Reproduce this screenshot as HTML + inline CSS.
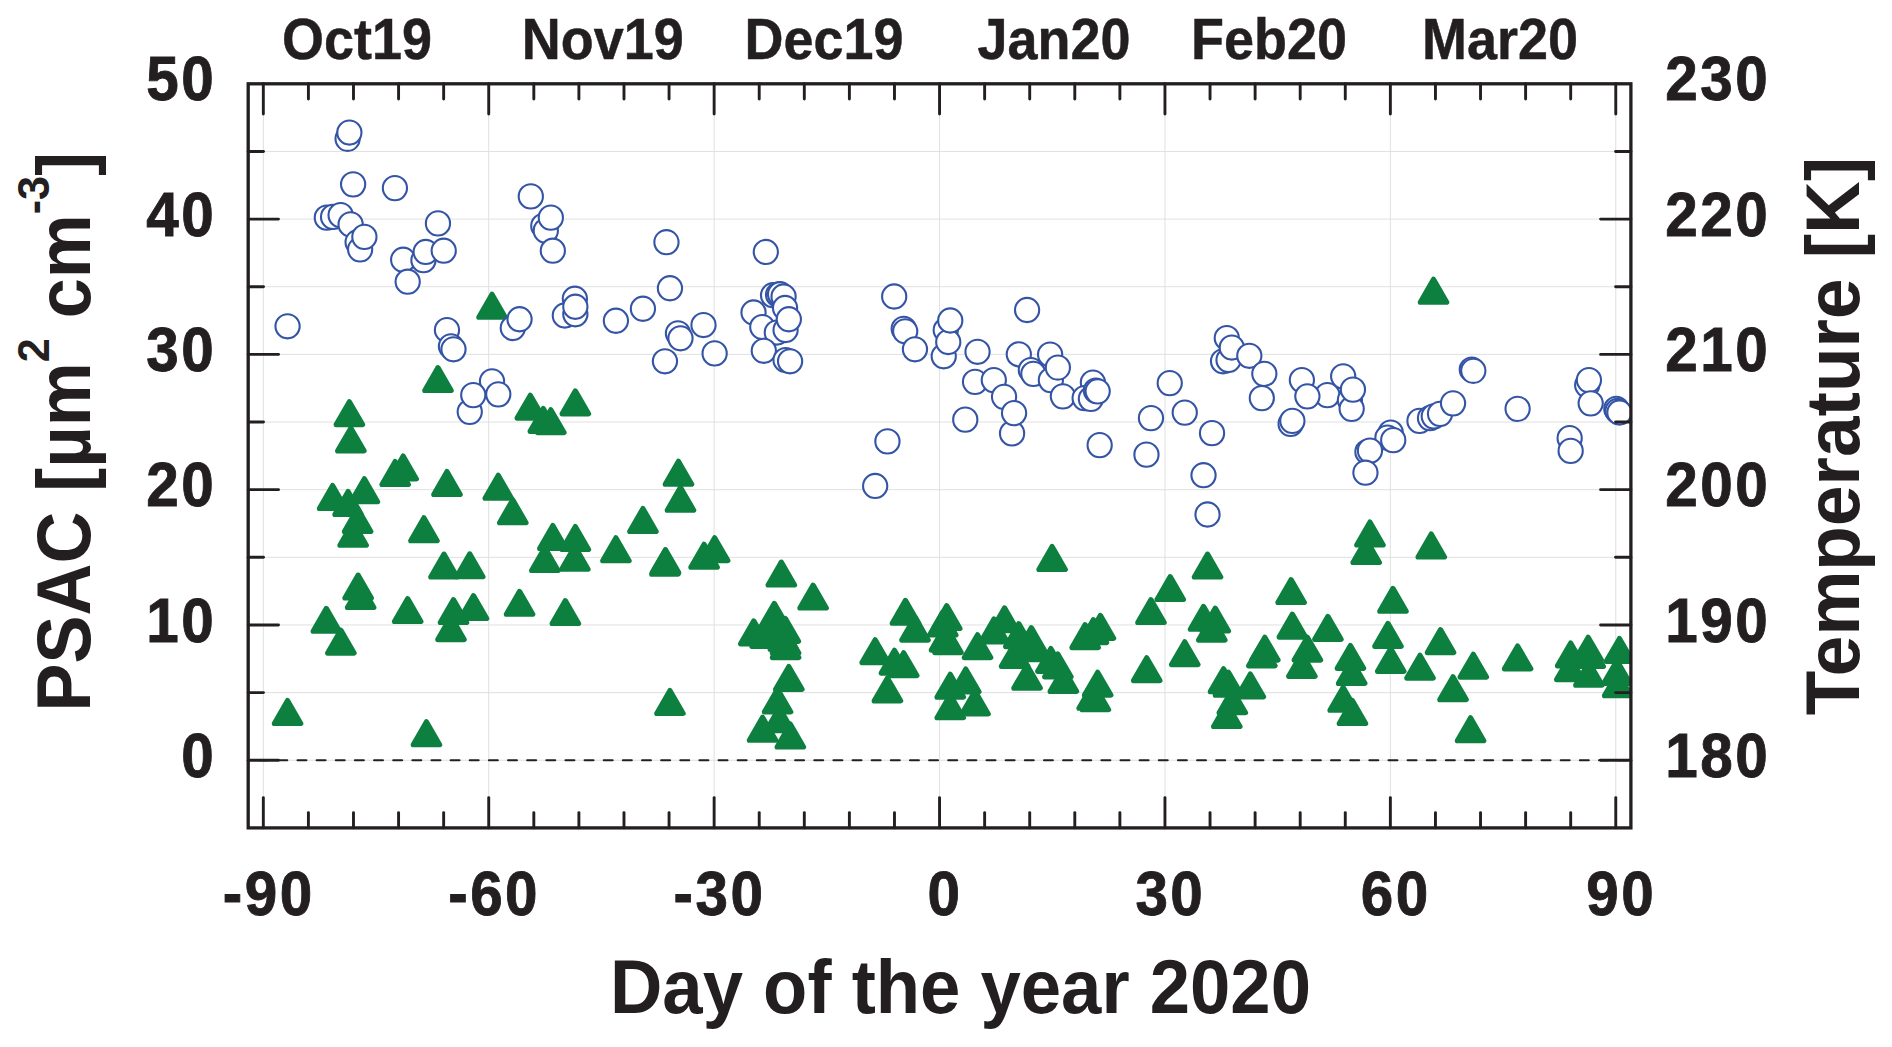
<!DOCTYPE html>
<html><head><meta charset="utf-8"><title>PSAC and Temperature</title>
<style>html,body{margin:0;padding:0;background:#fff}svg{display:block}text{font-family:"Liberation Sans",Arial,Helvetica,sans-serif;font-weight:bold;fill:#231f20}</style></head><body>
<svg width="1892" height="1047" viewBox="0 0 1892 1047">
<rect width="1892" height="1047" fill="#fff"/>
<defs><clipPath id="pc"><rect x="248.20" y="83.80" width="1382.70" height="744.10"/></clipPath></defs>
<g stroke="#dedede" stroke-width="0.95" fill="none">
<line x1="263.33" y1="83.80" x2="263.33" y2="827.90"/>
<line x1="488.73" y1="83.80" x2="488.73" y2="827.90"/>
<line x1="714.14" y1="83.80" x2="714.14" y2="827.90"/>
<line x1="939.55" y1="83.80" x2="939.55" y2="827.90"/>
<line x1="1164.96" y1="83.80" x2="1164.96" y2="827.90"/>
<line x1="1390.37" y1="83.80" x2="1390.37" y2="827.90"/>
<line x1="1615.77" y1="83.80" x2="1615.77" y2="827.90"/>
<line x1="248.20" y1="760.25" x2="1630.90" y2="760.25"/>
<line x1="248.20" y1="692.61" x2="1630.90" y2="692.61"/>
<line x1="248.20" y1="624.96" x2="1630.90" y2="624.96"/>
<line x1="248.20" y1="557.32" x2="1630.90" y2="557.32"/>
<line x1="248.20" y1="489.67" x2="1630.90" y2="489.67"/>
<line x1="248.20" y1="422.02" x2="1630.90" y2="422.02"/>
<line x1="248.20" y1="354.38" x2="1630.90" y2="354.38"/>
<line x1="248.20" y1="286.74" x2="1630.90" y2="286.74"/>
<line x1="248.20" y1="219.09" x2="1630.90" y2="219.09"/>
<line x1="248.20" y1="151.45" x2="1630.90" y2="151.45"/>
</g>
<line x1="259.28" y1="760.25" x2="1627.90" y2="760.25" stroke="#231f20" stroke-width="2.2" stroke-linecap="round" stroke-dasharray="8.8 10.34"/>
<g clip-path="url(#pc)">
<g fill="#0d8040" stroke="#0d8040" stroke-width="5.1" stroke-linejoin="round">
<path d="M492.02 294.28 L505.27 317.23 L478.77 317.23 Z"/>
<path d="M1433.51 279.26 L1446.76 302.21 L1420.26 302.21 Z"/>
<path d="M437.96 367.62 L451.21 390.57 L424.71 390.57 Z"/>
<path d="M349.37 401.66 L362.62 424.61 L336.12 424.61 Z"/>
<path d="M350.87 427.93 L364.12 450.88 L337.62 450.88 Z"/>
<path d="M530.31 395.15 L543.56 418.10 L517.06 418.10 Z"/>
<path d="M543.32 408.41 L556.57 431.36 L530.07 431.36 Z"/>
<path d="M550.83 409.66 L564.08 432.61 L537.58 432.61 Z"/>
<path d="M575.35 390.89 L588.60 413.84 L562.10 413.84 Z"/>
<path d="M403.17 455.96 L416.42 478.91 L389.92 478.91 Z"/>
<path d="M395.16 461.47 L408.41 484.42 L381.91 484.42 Z"/>
<path d="M446.97 471.48 L460.22 494.43 L433.72 494.43 Z"/>
<path d="M498.27 475.23 L511.52 498.18 L485.02 498.18 Z"/>
<path d="M512.79 499.76 L526.04 522.71 L499.54 522.71 Z"/>
<path d="M364.38 478.74 L377.63 501.69 L351.13 501.69 Z"/>
<path d="M332.60 485.49 L345.85 508.44 L319.35 508.44 Z"/>
<path d="M348.11 491.50 L361.36 514.45 L334.86 514.45 Z"/>
<path d="M357.62 508.52 L370.87 531.47 L344.37 531.47 Z"/>
<path d="M353.12 522.28 L366.37 545.23 L339.87 545.23 Z"/>
<path d="M423.94 517.78 L437.19 540.73 L410.69 540.73 Z"/>
<path d="M678.46 461.22 L691.71 484.17 L665.21 484.17 Z"/>
<path d="M680.47 487.25 L693.72 510.20 L667.22 510.20 Z"/>
<path d="M642.93 508.52 L656.18 531.47 L629.68 531.47 Z"/>
<path d="M552.83 525.54 L566.08 548.49 L539.58 548.49 Z"/>
<path d="M575.35 526.54 L588.60 549.49 L562.10 549.49 Z"/>
<path d="M615.90 537.80 L629.15 560.75 L602.65 560.75 Z"/>
<path d="M287.55 700.47 L300.80 723.42 L274.30 723.42 Z"/>
<path d="M426.45 721.74 L439.70 744.69 L413.20 744.69 Z"/>
<path d="M669.95 690.46 L683.20 713.41 L656.70 713.41 Z"/>
<path d="M326.34 608.37 L339.59 631.32 L313.09 631.32 Z"/>
<path d="M340.86 630.14 L354.11 653.09 L327.61 653.09 Z"/>
<path d="M358.12 575.08 L371.37 598.03 L344.87 598.03 Z"/>
<path d="M360.63 584.59 L373.88 607.54 L347.38 607.54 Z"/>
<path d="M407.68 598.61 L420.93 621.56 L394.43 621.56 Z"/>
<path d="M453.48 599.61 L466.73 622.56 L440.23 622.56 Z"/>
<path d="M450.97 616.63 L464.22 639.58 L437.72 639.58 Z"/>
<path d="M473.50 595.61 L486.75 618.56 L460.25 618.56 Z"/>
<path d="M443.97 554.06 L457.22 577.01 L430.72 577.01 Z"/>
<path d="M469.74 553.81 L482.99 576.76 L456.49 576.76 Z"/>
<path d="M519.55 591.35 L532.80 614.30 L506.30 614.30 Z"/>
<path d="M565.34 600.61 L578.59 623.56 L552.09 623.56 Z"/>
<path d="M544.82 547.56 L558.07 570.51 L531.57 570.51 Z"/>
<path d="M574.85 546.30 L588.10 569.25 L561.60 569.25 Z"/>
<path d="M665.45 549.56 L678.70 572.51 L652.20 572.51 Z"/>
<path d="M664.95 551.18 L678.20 574.13 L651.70 574.13 Z"/>
<path d="M704.09 544.30 L717.34 567.25 L690.84 567.25 Z"/>
<path d="M714.65 537.65 L727.90 560.60 L701.40 560.60 Z"/>
<path d="M781.32 562.07 L794.57 585.02 L768.07 585.02 Z"/>
<path d="M813.11 585.10 L826.36 608.05 L799.86 608.05 Z"/>
<path d="M774.31 603.36 L787.56 626.31 L761.06 626.31 Z"/>
<path d="M753.79 620.88 L767.04 643.83 L740.54 643.83 Z"/>
<path d="M765.06 623.39 L778.31 646.34 L751.81 646.34 Z"/>
<path d="M785.33 618.38 L798.58 641.33 L772.08 641.33 Z"/>
<path d="M785.58 634.65 L798.83 657.60 L772.33 657.60 Z"/>
<path d="M783.32 626.39 L796.57 649.34 L770.07 649.34 Z"/>
<path d="M775.07 613.38 L788.32 636.33 L761.82 636.33 Z"/>
<path d="M785.58 630.14 L798.83 653.09 L772.33 653.09 Z"/>
<path d="M788.83 666.43 L802.08 689.38 L775.58 689.38 Z"/>
<path d="M777.57 688.96 L790.82 711.91 L764.32 711.91 Z"/>
<path d="M762.55 717.24 L775.80 740.19 L749.30 740.19 Z"/>
<path d="M790.33 723.99 L803.58 746.94 L777.08 746.94 Z"/>
<path d="M779.32 707.73 L792.57 730.68 L766.07 730.68 Z"/>
<path d="M875.17 639.65 L888.42 662.60 L861.92 662.60 Z"/>
<path d="M887.43 677.94 L900.68 700.89 L874.18 700.89 Z"/>
<path d="M894.44 650.16 L907.69 673.11 L881.19 673.11 Z"/>
<path d="M903.70 652.67 L916.95 675.62 L890.45 675.62 Z"/>
<path d="M905.45 600.36 L918.70 623.31 L892.20 623.31 Z"/>
<path d="M914.96 617.13 L928.21 640.08 L901.71 640.08 Z"/>
<path d="M946.75 605.62 L960.00 628.57 L933.50 628.57 Z"/>
<path d="M942.74 612.12 L955.99 635.07 L929.49 635.07 Z"/>
<path d="M948.00 629.64 L961.25 652.59 L934.75 652.59 Z"/>
<path d="M944.49 627.14 L957.74 650.09 L931.24 650.09 Z"/>
<path d="M977.53 634.65 L990.78 657.60 L964.28 657.60 Z"/>
<path d="M950.25 674.19 L963.50 697.14 L937.00 697.14 Z"/>
<path d="M965.77 668.93 L979.02 691.88 L952.52 691.88 Z"/>
<path d="M950.25 694.71 L963.50 717.66 L937.00 717.66 Z"/>
<path d="M975.03 690.96 L988.28 713.91 L961.78 713.91 Z"/>
<path d="M1004.56 607.87 L1017.81 630.82 L991.31 630.82 Z"/>
<path d="M994.05 618.88 L1007.30 641.83 L980.80 641.83 Z"/>
<path d="M1018.82 623.64 L1032.07 646.59 L1005.57 646.59 Z"/>
<path d="M1034.09 636.65 L1047.34 659.60 L1020.84 659.60 Z"/>
<path d="M1031.34 627.64 L1044.59 650.59 L1018.09 650.59 Z"/>
<path d="M1014.57 643.41 L1027.82 666.36 L1001.32 666.36 Z"/>
<path d="M1027.08 665.18 L1040.33 688.13 L1013.83 688.13 Z"/>
<path d="M1050.86 648.41 L1064.11 671.36 L1037.61 671.36 Z"/>
<path d="M1057.86 653.92 L1071.11 676.87 L1044.61 676.87 Z"/>
<path d="M1063.37 668.43 L1076.62 691.38 L1050.12 691.38 Z"/>
<path d="M1097.66 672.19 L1110.91 695.14 L1084.41 695.14 Z"/>
<path d="M1092.15 685.20 L1105.40 708.15 L1078.90 708.15 Z"/>
<path d="M1095.40 686.70 L1108.65 709.65 L1082.15 709.65 Z"/>
<path d="M1085.14 624.64 L1098.39 647.59 L1071.89 647.59 Z"/>
<path d="M1093.40 619.63 L1106.65 642.58 L1080.15 642.58 Z"/>
<path d="M1100.41 615.38 L1113.66 638.33 L1087.16 638.33 Z"/>
<path d="M1052.11 546.55 L1065.36 569.50 L1038.86 569.50 Z"/>
<path d="M1170.23 576.59 L1183.48 599.54 L1156.98 599.54 Z"/>
<path d="M1150.96 599.61 L1164.21 622.56 L1137.71 622.56 Z"/>
<path d="M1146.71 657.67 L1159.96 680.62 L1133.46 680.62 Z"/>
<path d="M1184.75 641.66 L1198.00 664.61 L1171.50 664.61 Z"/>
<path d="M1207.52 554.06 L1220.77 577.01 L1194.27 577.01 Z"/>
<path d="M1203.52 606.37 L1216.77 629.32 L1190.27 629.32 Z"/>
<path d="M1215.28 608.12 L1228.53 631.07 L1202.03 631.07 Z"/>
<path d="M1211.78 617.13 L1225.03 640.08 L1198.53 640.08 Z"/>
<path d="M1223.54 668.68 L1236.79 691.63 L1210.29 691.63 Z"/>
<path d="M1228.54 672.19 L1241.79 695.14 L1215.29 695.14 Z"/>
<path d="M1250.32 673.94 L1263.57 696.89 L1237.07 696.89 Z"/>
<path d="M1232.30 689.71 L1245.55 712.66 L1219.05 712.66 Z"/>
<path d="M1226.79 703.47 L1240.04 726.42 L1213.54 726.42 Z"/>
<path d="M1264.83 637.15 L1278.08 660.10 L1251.58 660.10 Z"/>
<path d="M1261.83 642.91 L1275.08 665.86 L1248.58 665.86 Z"/>
<path d="M1291.11 579.59 L1304.36 602.54 L1277.86 602.54 Z"/>
<path d="M1292.36 614.13 L1305.61 637.08 L1279.11 637.08 Z"/>
<path d="M1307.38 637.15 L1320.63 660.10 L1294.13 660.10 Z"/>
<path d="M1301.87 653.42 L1315.12 676.37 L1288.62 676.37 Z"/>
<path d="M1327.90 616.38 L1341.15 639.33 L1314.65 639.33 Z"/>
<path d="M1350.42 645.41 L1363.67 668.36 L1337.17 668.36 Z"/>
<path d="M1351.68 660.43 L1364.93 683.38 L1338.43 683.38 Z"/>
<path d="M1343.17 687.20 L1356.42 710.15 L1329.92 710.15 Z"/>
<path d="M1352.43 700.47 L1365.68 723.42 L1339.18 723.42 Z"/>
<path d="M1369.94 522.03 L1383.19 544.98 L1356.69 544.98 Z"/>
<path d="M1366.19 539.55 L1379.44 562.50 L1352.94 562.50 Z"/>
<path d="M1431.26 534.04 L1444.51 556.99 L1418.01 556.99 Z"/>
<path d="M1392.97 588.35 L1406.22 611.30 L1379.72 611.30 Z"/>
<path d="M1387.96 623.39 L1401.21 646.34 L1374.71 646.34 Z"/>
<path d="M1390.72 648.41 L1403.97 671.36 L1377.47 671.36 Z"/>
<path d="M1440.52 629.64 L1453.77 652.59 L1427.27 652.59 Z"/>
<path d="M1420.00 655.17 L1433.25 678.12 L1406.75 678.12 Z"/>
<path d="M1473.30 654.17 L1486.55 677.12 L1460.05 677.12 Z"/>
<path d="M1453.03 676.69 L1466.28 699.64 L1439.78 699.64 Z"/>
<path d="M1470.55 717.74 L1483.80 740.69 L1457.30 740.69 Z"/>
<path d="M1517.60 645.91 L1530.85 668.86 L1504.35 668.86 Z"/>
<path d="M1570.66 642.91 L1583.91 665.86 L1557.41 665.86 Z"/>
<path d="M1588.18 637.15 L1601.43 660.10 L1574.93 660.10 Z"/>
<path d="M1569.78 656.67 L1583.03 679.62 L1556.53 679.62 Z"/>
<path d="M1588.93 662.18 L1602.18 685.13 L1575.68 685.13 Z"/>
<path d="M1619.46 638.40 L1632.71 661.35 L1606.21 661.35 Z"/>
<path d="M1617.71 672.69 L1630.96 695.64 L1604.46 695.64 Z"/>
<path d="M1616.96 660.43 L1630.21 683.38 L1603.71 683.38 Z"/>
<path d="M1590.18 643.56 L1603.43 666.51 L1576.93 666.51 Z"/>
</g>
<g fill="#fff" stroke="#3454a5" stroke-width="2.1">
<circle cx="347.61" cy="138.82" r="12.1"/>
<circle cx="349.37" cy="132.56" r="12.1"/>
<circle cx="353.12" cy="184.37" r="12.1"/>
<circle cx="394.91" cy="188.12" r="12.1"/>
<circle cx="326.84" cy="217.65" r="12.1"/>
<circle cx="333.10" cy="216.90" r="12.1"/>
<circle cx="340.61" cy="215.15" r="12.1"/>
<circle cx="350.62" cy="224.41" r="12.1"/>
<circle cx="357.62" cy="242.18" r="12.1"/>
<circle cx="360.13" cy="249.43" r="12.1"/>
<circle cx="364.38" cy="236.92" r="12.1"/>
<circle cx="437.96" cy="223.41" r="12.1"/>
<circle cx="403.17" cy="259.70" r="12.1"/>
<circle cx="423.44" cy="260.20" r="12.1"/>
<circle cx="425.70" cy="251.94" r="12.1"/>
<circle cx="443.72" cy="250.69" r="12.1"/>
<circle cx="407.68" cy="281.72" r="12.1"/>
<circle cx="530.81" cy="196.38" r="12.1"/>
<circle cx="543.32" cy="225.91" r="12.1"/>
<circle cx="545.82" cy="230.66" r="12.1"/>
<circle cx="550.83" cy="217.65" r="12.1"/>
<circle cx="552.83" cy="250.69" r="12.1"/>
<circle cx="666.45" cy="242.18" r="12.1"/>
<circle cx="669.95" cy="288.23" r="12.1"/>
<circle cx="287.55" cy="326.28" r="12.1"/>
<circle cx="446.97" cy="330.03" r="12.1"/>
<circle cx="450.97" cy="346.30" r="12.1"/>
<circle cx="453.48" cy="349.30" r="12.1"/>
<circle cx="512.79" cy="328.03" r="12.1"/>
<circle cx="519.55" cy="319.27" r="12.1"/>
<circle cx="574.85" cy="298.75" r="12.1"/>
<circle cx="564.84" cy="315.52" r="12.1"/>
<circle cx="575.35" cy="314.27" r="12.1"/>
<circle cx="575.35" cy="306.76" r="12.1"/>
<circle cx="615.90" cy="320.77" r="12.1"/>
<circle cx="642.93" cy="308.76" r="12.1"/>
<circle cx="677.96" cy="333.29" r="12.1"/>
<circle cx="680.47" cy="338.29" r="12.1"/>
<circle cx="703.49" cy="325.03" r="12.1"/>
<circle cx="664.95" cy="361.31" r="12.1"/>
<circle cx="714.63" cy="353.41" r="12.1"/>
<circle cx="492.02" cy="381.34" r="12.1"/>
<circle cx="469.74" cy="411.87" r="12.1"/>
<circle cx="473.25" cy="395.10" r="12.1"/>
<circle cx="498.27" cy="394.35" r="12.1"/>
<circle cx="765.81" cy="251.94" r="12.1"/>
<circle cx="894.19" cy="296.48" r="12.1"/>
<circle cx="1027.08" cy="310.00" r="12.1"/>
<circle cx="773.06" cy="295.23" r="12.1"/>
<circle cx="778.07" cy="294.73" r="12.1"/>
<circle cx="780.07" cy="294.23" r="12.1"/>
<circle cx="783.57" cy="296.48" r="12.1"/>
<circle cx="753.54" cy="312.51" r="12.1"/>
<circle cx="762.30" cy="327.03" r="12.1"/>
<circle cx="776.82" cy="332.53" r="12.1"/>
<circle cx="785.58" cy="330.03" r="12.1"/>
<circle cx="785.08" cy="308.01" r="12.1"/>
<circle cx="788.83" cy="319.27" r="12.1"/>
<circle cx="763.80" cy="350.80" r="12.1"/>
<circle cx="785.58" cy="360.06" r="12.1"/>
<circle cx="790.08" cy="361.31" r="12.1"/>
<circle cx="903.70" cy="328.78" r="12.1"/>
<circle cx="905.20" cy="331.28" r="12.1"/>
<circle cx="914.96" cy="349.30" r="12.1"/>
<circle cx="943.74" cy="356.31" r="12.1"/>
<circle cx="945.75" cy="330.03" r="12.1"/>
<circle cx="948.25" cy="342.04" r="12.1"/>
<circle cx="950.25" cy="320.52" r="12.1"/>
<circle cx="977.53" cy="351.80" r="12.1"/>
<circle cx="975.03" cy="381.84" r="12.1"/>
<circle cx="993.80" cy="380.08" r="12.1"/>
<circle cx="1004.06" cy="396.85" r="12.1"/>
<circle cx="1012.07" cy="433.39" r="12.1"/>
<circle cx="1014.07" cy="413.12" r="12.1"/>
<circle cx="965.27" cy="419.63" r="12.1"/>
<circle cx="1018.82" cy="354.31" r="12.1"/>
<circle cx="1030.84" cy="370.07" r="12.1"/>
<circle cx="1033.34" cy="373.83" r="12.1"/>
<circle cx="1050.11" cy="354.56" r="12.1"/>
<circle cx="1050.86" cy="380.08" r="12.1"/>
<circle cx="1057.86" cy="367.57" r="12.1"/>
<circle cx="1062.87" cy="396.35" r="12.1"/>
<circle cx="1092.90" cy="382.59" r="12.1"/>
<circle cx="1084.64" cy="398.10" r="12.1"/>
<circle cx="1090.90" cy="398.85" r="12.1"/>
<circle cx="1095.90" cy="390.60" r="12.1"/>
<circle cx="1097.66" cy="391.35" r="12.1"/>
<circle cx="1099.66" cy="445.15" r="12.1"/>
<circle cx="1169.73" cy="383.09" r="12.1"/>
<circle cx="1150.96" cy="418.12" r="12.1"/>
<circle cx="1146.46" cy="454.66" r="12.1"/>
<circle cx="1184.75" cy="412.62" r="12.1"/>
<circle cx="887.43" cy="441.40" r="12.1"/>
<circle cx="875.17" cy="485.95" r="12.1"/>
<circle cx="1226.79" cy="338.04" r="12.1"/>
<circle cx="1223.04" cy="361.31" r="12.1"/>
<circle cx="1228.54" cy="360.06" r="12.1"/>
<circle cx="1231.80" cy="347.55" r="12.1"/>
<circle cx="1249.32" cy="355.81" r="12.1"/>
<circle cx="1264.33" cy="373.83" r="12.1"/>
<circle cx="1261.83" cy="398.10" r="12.1"/>
<circle cx="1212.03" cy="433.14" r="12.1"/>
<circle cx="1203.52" cy="475.19" r="12.1"/>
<circle cx="1207.52" cy="514.48" r="12.1"/>
<circle cx="1301.87" cy="380.08" r="12.1"/>
<circle cx="1327.40" cy="395.10" r="12.1"/>
<circle cx="1307.38" cy="396.35" r="12.1"/>
<circle cx="1343.17" cy="376.33" r="12.1"/>
<circle cx="1349.92" cy="400.11" r="12.1"/>
<circle cx="1351.68" cy="408.87" r="12.1"/>
<circle cx="1352.93" cy="389.59" r="12.1"/>
<circle cx="1290.61" cy="423.88" r="12.1"/>
<circle cx="1292.36" cy="420.88" r="12.1"/>
<circle cx="1471.80" cy="369.57" r="12.1"/>
<circle cx="1473.30" cy="370.82" r="12.1"/>
<circle cx="1419.50" cy="420.88" r="12.1"/>
<circle cx="1430.01" cy="418.12" r="12.1"/>
<circle cx="1433.76" cy="416.37" r="12.1"/>
<circle cx="1440.02" cy="413.87" r="12.1"/>
<circle cx="1453.03" cy="403.36" r="12.1"/>
<circle cx="1390.72" cy="432.64" r="12.1"/>
<circle cx="1387.46" cy="437.65" r="12.1"/>
<circle cx="1393.22" cy="440.15" r="12.1"/>
<circle cx="1367.44" cy="451.91" r="12.1"/>
<circle cx="1369.94" cy="450.66" r="12.1"/>
<circle cx="1365.44" cy="472.68" r="12.1"/>
<circle cx="1517.60" cy="408.87" r="12.1"/>
<circle cx="1587.17" cy="385.09" r="12.1"/>
<circle cx="1588.93" cy="380.08" r="12.1"/>
<circle cx="1590.68" cy="403.36" r="12.1"/>
<circle cx="1569.66" cy="438.15" r="12.1"/>
<circle cx="1570.66" cy="450.91" r="12.1"/>
<circle cx="1616.33" cy="408.92" r="12.1"/>
<circle cx="1617.46" cy="410.97" r="12.1"/>
<circle cx="1619.41" cy="412.49" r="12.1"/>
</g>
</g>
<g stroke="#231f20" stroke-width="2.9" stroke-linecap="round" fill="none">
<line x1="263.33" y1="83.80" x2="263.33" y2="114.10"/>
<line x1="263.33" y1="827.90" x2="263.33" y2="797.60"/>
<line x1="308.41" y1="83.80" x2="308.41" y2="99.10"/>
<line x1="308.41" y1="827.90" x2="308.41" y2="812.60"/>
<line x1="353.49" y1="83.80" x2="353.49" y2="99.10"/>
<line x1="353.49" y1="827.90" x2="353.49" y2="812.60"/>
<line x1="398.57" y1="83.80" x2="398.57" y2="99.10"/>
<line x1="398.57" y1="827.90" x2="398.57" y2="812.60"/>
<line x1="443.65" y1="83.80" x2="443.65" y2="99.10"/>
<line x1="443.65" y1="827.90" x2="443.65" y2="812.60"/>
<line x1="488.73" y1="83.80" x2="488.73" y2="114.10"/>
<line x1="488.73" y1="827.90" x2="488.73" y2="797.60"/>
<line x1="533.82" y1="83.80" x2="533.82" y2="99.10"/>
<line x1="533.82" y1="827.90" x2="533.82" y2="812.60"/>
<line x1="578.90" y1="83.80" x2="578.90" y2="99.10"/>
<line x1="578.90" y1="827.90" x2="578.90" y2="812.60"/>
<line x1="623.98" y1="83.80" x2="623.98" y2="99.10"/>
<line x1="623.98" y1="827.90" x2="623.98" y2="812.60"/>
<line x1="669.06" y1="83.80" x2="669.06" y2="99.10"/>
<line x1="669.06" y1="827.90" x2="669.06" y2="812.60"/>
<line x1="714.14" y1="83.80" x2="714.14" y2="114.10"/>
<line x1="714.14" y1="827.90" x2="714.14" y2="797.60"/>
<line x1="759.22" y1="83.80" x2="759.22" y2="99.10"/>
<line x1="759.22" y1="827.90" x2="759.22" y2="812.60"/>
<line x1="804.31" y1="83.80" x2="804.31" y2="99.10"/>
<line x1="804.31" y1="827.90" x2="804.31" y2="812.60"/>
<line x1="849.39" y1="83.80" x2="849.39" y2="99.10"/>
<line x1="849.39" y1="827.90" x2="849.39" y2="812.60"/>
<line x1="894.47" y1="83.80" x2="894.47" y2="99.10"/>
<line x1="894.47" y1="827.90" x2="894.47" y2="812.60"/>
<line x1="939.55" y1="83.80" x2="939.55" y2="114.10"/>
<line x1="939.55" y1="827.90" x2="939.55" y2="797.60"/>
<line x1="984.63" y1="83.80" x2="984.63" y2="99.10"/>
<line x1="984.63" y1="827.90" x2="984.63" y2="812.60"/>
<line x1="1029.71" y1="83.80" x2="1029.71" y2="99.10"/>
<line x1="1029.71" y1="827.90" x2="1029.71" y2="812.60"/>
<line x1="1074.79" y1="83.80" x2="1074.79" y2="99.10"/>
<line x1="1074.79" y1="827.90" x2="1074.79" y2="812.60"/>
<line x1="1119.88" y1="83.80" x2="1119.88" y2="99.10"/>
<line x1="1119.88" y1="827.90" x2="1119.88" y2="812.60"/>
<line x1="1164.96" y1="83.80" x2="1164.96" y2="114.10"/>
<line x1="1164.96" y1="827.90" x2="1164.96" y2="797.60"/>
<line x1="1210.04" y1="83.80" x2="1210.04" y2="99.10"/>
<line x1="1210.04" y1="827.90" x2="1210.04" y2="812.60"/>
<line x1="1255.12" y1="83.80" x2="1255.12" y2="99.10"/>
<line x1="1255.12" y1="827.90" x2="1255.12" y2="812.60"/>
<line x1="1300.20" y1="83.80" x2="1300.20" y2="99.10"/>
<line x1="1300.20" y1="827.90" x2="1300.20" y2="812.60"/>
<line x1="1345.28" y1="83.80" x2="1345.28" y2="99.10"/>
<line x1="1345.28" y1="827.90" x2="1345.28" y2="812.60"/>
<line x1="1390.37" y1="83.80" x2="1390.37" y2="114.10"/>
<line x1="1390.37" y1="827.90" x2="1390.37" y2="797.60"/>
<line x1="1435.45" y1="83.80" x2="1435.45" y2="99.10"/>
<line x1="1435.45" y1="827.90" x2="1435.45" y2="812.60"/>
<line x1="1480.53" y1="83.80" x2="1480.53" y2="99.10"/>
<line x1="1480.53" y1="827.90" x2="1480.53" y2="812.60"/>
<line x1="1525.61" y1="83.80" x2="1525.61" y2="99.10"/>
<line x1="1525.61" y1="827.90" x2="1525.61" y2="812.60"/>
<line x1="1570.69" y1="83.80" x2="1570.69" y2="99.10"/>
<line x1="1570.69" y1="827.90" x2="1570.69" y2="812.60"/>
<line x1="1615.77" y1="83.80" x2="1615.77" y2="114.10"/>
<line x1="1615.77" y1="827.90" x2="1615.77" y2="797.60"/>
<line x1="248.20" y1="760.25" x2="278.50" y2="760.25"/>
<line x1="1630.90" y1="760.25" x2="1600.60" y2="760.25"/>
<line x1="248.20" y1="692.61" x2="263.50" y2="692.61"/>
<line x1="1630.90" y1="692.61" x2="1615.60" y2="692.61"/>
<line x1="248.20" y1="624.96" x2="278.50" y2="624.96"/>
<line x1="1630.90" y1="624.96" x2="1600.60" y2="624.96"/>
<line x1="248.20" y1="557.32" x2="263.50" y2="557.32"/>
<line x1="1630.90" y1="557.32" x2="1615.60" y2="557.32"/>
<line x1="248.20" y1="489.67" x2="278.50" y2="489.67"/>
<line x1="1630.90" y1="489.67" x2="1600.60" y2="489.67"/>
<line x1="248.20" y1="422.02" x2="263.50" y2="422.02"/>
<line x1="1630.90" y1="422.02" x2="1615.60" y2="422.02"/>
<line x1="248.20" y1="354.38" x2="278.50" y2="354.38"/>
<line x1="1630.90" y1="354.38" x2="1600.60" y2="354.38"/>
<line x1="248.20" y1="286.74" x2="263.50" y2="286.74"/>
<line x1="1630.90" y1="286.74" x2="1615.60" y2="286.74"/>
<line x1="248.20" y1="219.09" x2="278.50" y2="219.09"/>
<line x1="1630.90" y1="219.09" x2="1600.60" y2="219.09"/>
<line x1="248.20" y1="151.45" x2="263.50" y2="151.45"/>
<line x1="1630.90" y1="151.45" x2="1615.60" y2="151.45"/>
</g>
<rect x="248.20" y="83.80" width="1382.70" height="744.10" fill="none" stroke="#231f20" stroke-width="3.3"/>
<text transform="translate(216.10,776.85) scale(0.9240,1)" text-anchor="end" font-size="63.20" letter-spacing="2.7" stroke="#231f20" stroke-width="0.9">0</text>
<text transform="translate(1665.30,776.85) scale(0.9240,1)" text-anchor="start" font-size="63.20" letter-spacing="2.7" stroke="#231f20" stroke-width="0.9">180</text>
<text transform="translate(216.10,641.56) scale(0.9240,1)" text-anchor="end" font-size="63.20" letter-spacing="2.7" stroke="#231f20" stroke-width="0.9">10</text>
<text transform="translate(1665.30,641.56) scale(0.9240,1)" text-anchor="start" font-size="63.20" letter-spacing="2.7" stroke="#231f20" stroke-width="0.9">190</text>
<text transform="translate(216.10,506.27) scale(0.9240,1)" text-anchor="end" font-size="63.20" letter-spacing="2.7" stroke="#231f20" stroke-width="0.9">20</text>
<text transform="translate(1665.30,506.27) scale(0.9240,1)" text-anchor="start" font-size="63.20" letter-spacing="2.7" stroke="#231f20" stroke-width="0.9">200</text>
<text transform="translate(216.10,370.98) scale(0.9240,1)" text-anchor="end" font-size="63.20" letter-spacing="2.7" stroke="#231f20" stroke-width="0.9">30</text>
<text transform="translate(1665.30,370.98) scale(0.9240,1)" text-anchor="start" font-size="63.20" letter-spacing="2.7" stroke="#231f20" stroke-width="0.9">210</text>
<text transform="translate(216.10,235.69) scale(0.9240,1)" text-anchor="end" font-size="63.20" letter-spacing="2.7" stroke="#231f20" stroke-width="0.9">40</text>
<text transform="translate(1665.30,235.69) scale(0.9240,1)" text-anchor="start" font-size="63.20" letter-spacing="2.7" stroke="#231f20" stroke-width="0.9">220</text>
<text transform="translate(216.10,100.40) scale(0.9240,1)" text-anchor="end" font-size="63.20" letter-spacing="2.7" stroke="#231f20" stroke-width="0.9">50</text>
<text transform="translate(1665.30,100.40) scale(0.9240,1)" text-anchor="start" font-size="63.20" letter-spacing="2.7" stroke="#231f20" stroke-width="0.9">230</text>
<text transform="translate(268.73,915.30) scale(0.9240,1)" text-anchor="middle" font-size="63.20" letter-spacing="2.7" stroke="#231f20" stroke-width="0.9">-90</text>
<text transform="translate(494.13,915.30) scale(0.9240,1)" text-anchor="middle" font-size="63.20" letter-spacing="2.7" stroke="#231f20" stroke-width="0.9">-60</text>
<text transform="translate(719.54,915.30) scale(0.9240,1)" text-anchor="middle" font-size="63.20" letter-spacing="2.7" stroke="#231f20" stroke-width="0.9">-30</text>
<text transform="translate(944.95,915.30) scale(0.9240,1)" text-anchor="middle" font-size="63.20" letter-spacing="2.7" stroke="#231f20" stroke-width="0.9">0</text>
<text transform="translate(1170.36,915.30) scale(0.9240,1)" text-anchor="middle" font-size="63.20" letter-spacing="2.7" stroke="#231f20" stroke-width="0.9">30</text>
<text transform="translate(1395.77,915.30) scale(0.9240,1)" text-anchor="middle" font-size="63.20" letter-spacing="2.7" stroke="#231f20" stroke-width="0.9">60</text>
<text transform="translate(1621.17,915.30) scale(0.9240,1)" text-anchor="middle" font-size="63.20" letter-spacing="2.7" stroke="#231f20" stroke-width="0.9">90</text>
<text transform="translate(357.00,58.80) scale(0.9370,1)" text-anchor="middle" font-size="57.60" stroke="#231f20" stroke-width="0.5">Oct19</text>
<text transform="translate(602.70,58.80) scale(0.9370,1)" text-anchor="middle" font-size="57.60" stroke="#231f20" stroke-width="0.5">Nov19</text>
<text transform="translate(824.00,58.80) scale(0.9370,1)" text-anchor="middle" font-size="57.60" stroke="#231f20" stroke-width="0.5">Dec19</text>
<text transform="translate(1054.00,58.80) scale(0.9370,1)" text-anchor="middle" font-size="57.60" stroke="#231f20" stroke-width="0.5">Jan20</text>
<text transform="translate(1269.00,58.80) scale(0.9370,1)" text-anchor="middle" font-size="57.60" stroke="#231f20" stroke-width="0.5">Feb20</text>
<text transform="translate(1500.00,58.80) scale(0.9370,1)" text-anchor="middle" font-size="57.60" stroke="#231f20" stroke-width="0.5">Mar20</text>
<text transform="translate(960.50,1013.10) scale(0.9600,1)" text-anchor="middle" font-size="75.50">Day of the year 2020</text>
<text transform="translate(90.00,431.80) rotate(-90) scale(0.9570,1)" text-anchor="middle" font-size="75.20">PSAC [µm<tspan font-size="45" dy="-41">2</tspan><tspan dy="41"> cm</tspan><tspan font-size="45" dy="-41">-3</tspan><tspan dy="41">]</tspan></text>
<text transform="translate(1859.00,436.10) rotate(-90) scale(0.9710,1)" text-anchor="middle" font-size="75.20">Temperature [K]</text>
</svg></body></html>
